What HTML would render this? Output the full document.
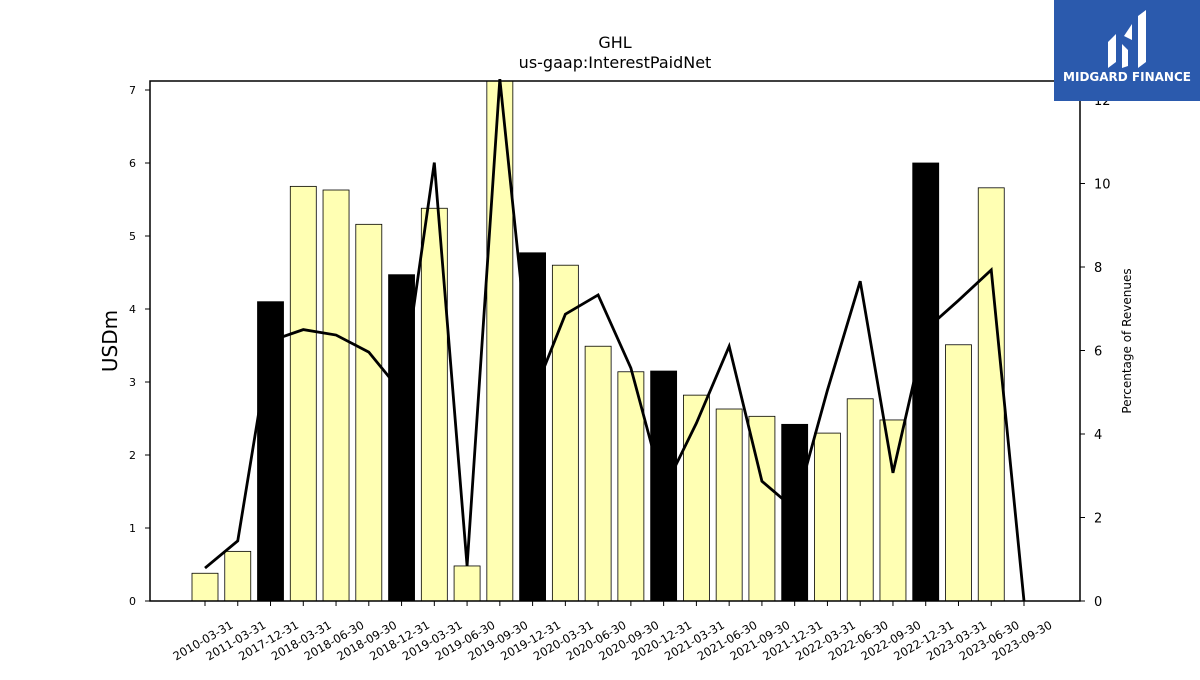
<!DOCTYPE html>
<html><head><meta charset="utf-8"><style>
body{margin:0;background:#fff;font-family:"Liberation Sans","DejaVu Sans",sans-serif;}
svg text{font-family:"DejaVu Sans","Liberation Sans",sans-serif;}
</style></head><body>
<svg id="chart" width="1200" height="675" xmlns="http://www.w3.org/2000/svg">
<text x="615" y="48" text-anchor="middle" font-size="16">GHL</text>
<text x="615" y="68" text-anchor="middle" font-size="16">us-gaap:InterestPaidNet</text>
<g id="bars"></g><g id="line"></g><g id="axes"></g>
<rect x="150" y="81" width="930" height="520" fill="none" stroke="#000" stroke-width="1.5"/>
<text transform="translate(117,341) rotate(-90)" text-anchor="middle" font-size="20">USDm</text>
<text transform="translate(1131,341) rotate(-90)" text-anchor="middle" font-size="12">Percentage of Revenues</text>
<g>
<rect x="1054" y="0" width="146" height="101" fill="#2b5aad"/>
<path d="M1108 68 L1108 42 L1116 34 L1116 62 Z M1122 68 L1122 44 L1128 50 L1128 66 Z M1138 68 L1138 16 L1146 10 L1146 62 Z M1124 36 L1132 24 L1132 40 Z" fill="#fff"/>
<text x="1127" y="81" text-anchor="middle" font-size="12" font-weight="bold" fill="#fff">MIDGARD FINANCE</text>
</g>
</svg>
<script>
const categories=["2010-03-31","2011-03-31","2017-12-31","2018-03-31","2018-06-30","2018-09-30","2018-12-31","2019-03-31","2019-06-30","2019-09-30","2019-12-31","2020-03-31","2020-06-30","2020-09-30","2020-12-31","2021-03-31","2021-06-30","2021-09-30","2021-12-31","2022-03-31","2022-06-30","2022-09-30","2022-12-31","2023-03-31","2023-06-30","2023-09-30"];
const interestPaid=[0.38,0.68,4.1,5.68,5.63,5.16,4.47,5.38,0.48,7.3,4.77,4.6,3.49,3.14,3.15,2.82,2.63,2.53,2.42,2.3,2.77,2.48,6.0,3.51,5.66,0];
const isAnnual=[0,0,1,0,0,0,1,0,0,0,1,0,0,0,1,0,0,0,1,0,0,0,1,0,0,0];
const pctRevenue=[0.79,1.44,6.23,6.5,6.37,5.96,5.0,10.5,0.84,12.5,4.9,6.87,7.33,5.58,2.66,4.26,6.1,2.87,2.2,5.05,7.66,3.07,6.5,7.2,7.93,0];
const leftTicks=[0,1,2,3,4,5,6,7];
const rightTicks=[0,2,4,6,8,10,12];
const NS="http://www.w3.org/2000/svg";
const x=i=>205+i*(1024-205)/(categories.length-1);
const yL=v=>601-v*73;
const yR=v=>601-v*41.75;
function mk(t,a,p){const e=document.createElementNS(NS,t);for(const k in a)e.setAttribute(k,a[k]);p.appendChild(e);return e;}
const bars=document.getElementById('bars'),line=document.getElementById('line'),axes=document.getElementById('axes');
interestPaid.forEach((v,i)=>{
 if(v<=0)return;
 const top=Math.max(yL(v),81);
 const r=mk('rect',{x:x(i)-13,y:top,width:26,height:601-top,fill:isAnnual[i]?'#000':'#ffffb3',stroke:'#000','stroke-width':0.8},bars);
 
 
});
const pts=pctRevenue.map((v,i)=>x(i)+','+yR(v)).join(' ');
const pl=mk('polyline',{points:pts,fill:'none',stroke:'#000','stroke-width':2.8},line);


leftTicks.forEach(t=>{
 mk('line',{x1:145,x2:150,y1:yL(t),y2:yL(t),stroke:'#000'},axes);
 const tx=mk('text',{x:136,y:yL(t)+4,'text-anchor':'end','font-size':11},axes);tx.textContent=t;
 
 
});
rightTicks.forEach(t=>{
 mk('line',{x1:1080,x2:1085,y1:yR(t),y2:yR(t),stroke:'#000'},axes);
 const tx=mk('text',{x:1094,y:yR(t)+5,'font-size':13},axes);tx.textContent=t;
 
 
});
categories.forEach((c,i)=>{
 mk('line',{x1:x(i),x2:x(i),y1:601,y2:606,stroke:'#000'},axes);
 const tx=mk('text',{transform:`translate(${x(i)},${644}) rotate(-30)`,'text-anchor':'middle','font-size':11.5},axes);tx.textContent=c;
 
 
});
</script>
</body></html>
